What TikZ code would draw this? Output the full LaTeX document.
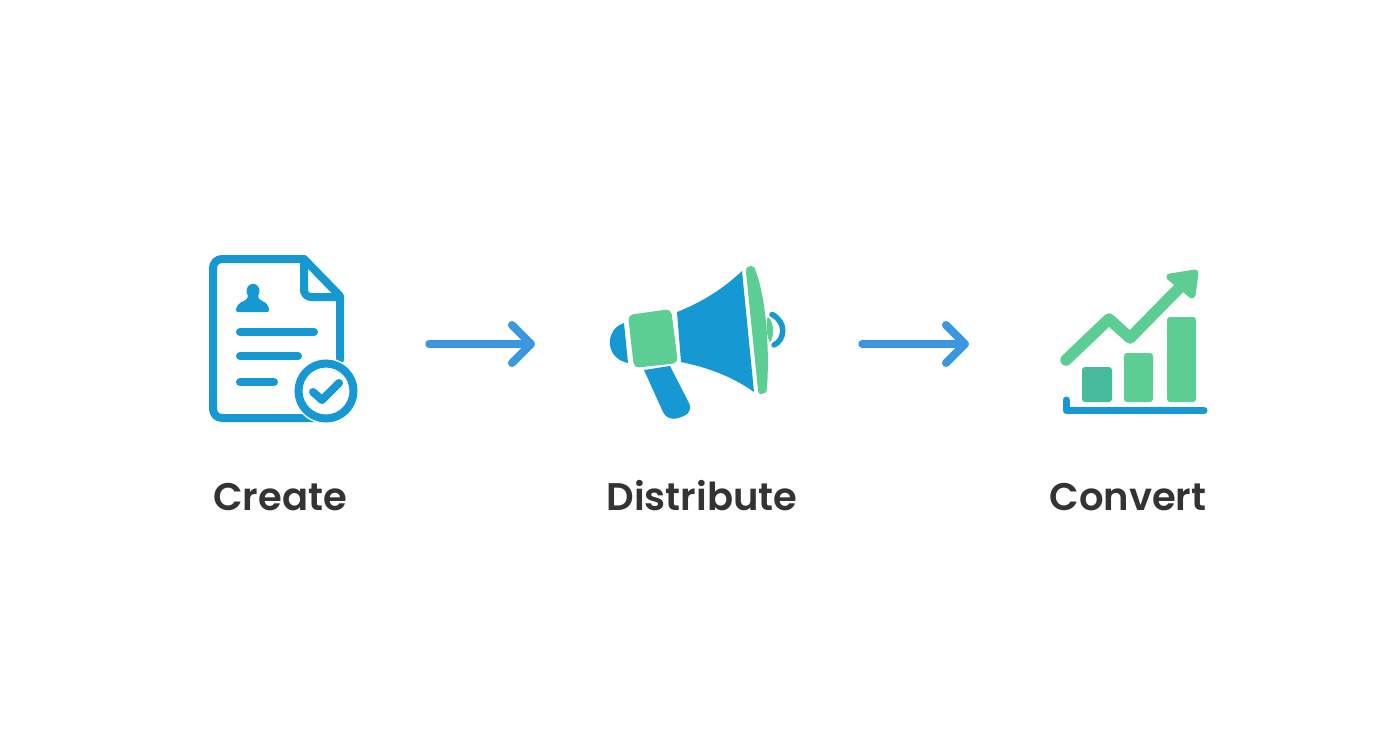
\documentclass[tikz,border=0pt]{standalone}
\usepackage{fontspec}
\setmainfont{Poppins}[BoldFont={Poppins SemiBold}]
\usetikzlibrary{arrows.meta}
\definecolor{bgc}{HTML}{FEFEFE}
\definecolor{iconblue}{HTML}{1699D2}
\definecolor{icongreen}{HTML}{5DCE93}
\definecolor{iconteal}{HTML}{46BA9C}
\definecolor{arrowblue}{HTML}{3A97E0}
\definecolor{labelc}{HTML}{333333}
\tikzset{
  outline/.style={draw=iconblue,line width=8pt,line cap=round,line join=round},
  rowline/.style={draw=iconblue,line width=8pt,line cap=round},
  flow/.style={draw=arrowblue,line width=7.5pt,line cap=round,line join=round,-{Straight Barb[round,length=19pt,width=38pt,line width=8pt]}},
  steplabel/.style={font=\fontsize{38.5}{44}\selectfont\bfseries,text=labelc,anchor=base,inner sep=0pt},
}
\begin{document}
\begin{tikzpicture}[x=1pt,y=-1pt]
\path[fill=bgc] (0,0) rectangle (1392,752);
\useasboundingbox (0,0) rectangle (1392,752);
% document
\draw[outline] (340,360) -- (340,296) -- (304,259);
\draw[outline,rounded corners=9pt] (304,259) -- (213,259) -- (213,418) -- (318,418);
\draw[outline,rounded corners=7pt] (304,259) -- (304,297) -- (340,297);
\fill[iconblue] (253,291) ellipse (6.5 and 7.2);
\fill[iconblue] (248,293) -- (258,293) .. controls (258,298) and (259,300) .. (262,301) .. controls (266,302) and (269,306) .. (269,310) .. controls (269,312) and (268,312) .. (266,312) -- (239,312) .. controls (237,312) and (236,312) .. (236,310) .. controls (236,306) and (240,302) .. (244,301) .. controls (247,300) and (248,298) .. (248,293) -- cycle;
\draw[rowline] (240,332) -- (314,332);
\draw[rowline] (240,356) -- (298,356);
\draw[rowline] (240,382) -- (274,382);
\fill[white] (326,391) circle (33);
\draw[draw=iconblue,line width=8pt,fill=white] (326,391) circle (27.5);
\draw[outline] (313,392) -- (322,400) -- (339,383);
% megaphone
\fill[iconblue] (624,323) .. controls (611,327) and (609,340) .. (610,345) .. controls (611,354) and (618,361) .. (628,363) -- cycle;
\fill[icongreen,rounded corners=5pt] (628,315) -- (671,309) -- (678,363) -- (634,368) -- cycle;
\fill[iconblue] (677,312) .. controls (700,303) and (722,290) .. (742,271) -- (754,392) .. controls (730,375) and (705,367) .. (681,362) -- cycle;
\fill[iconblue] (644,370) -- (670,366) -- (689,403) .. controls (693,412) and (686,416) .. (678,418) .. controls (671,420) and (666,418) .. (663,412) -- cycle;
\fill[icongreen] (746,272) .. controls (746,267) and (748,266) .. (751,266) .. controls (754,266) and (755,268) .. (756,272) .. controls (765,295) and (770,345) .. (767,388) .. controls (767,393) and (764,394) .. (761,394) .. controls (759,394) and (758,393) .. (758,390) -- cycle;
\fill[icongreen] (768,317) .. controls (772,320) and (773,326) .. (773,331) .. controls (773,337) and (772,340) .. (770,342) .. controls (767,339) and (766,325) .. (767,319) -- cycle;
\draw[draw=iconblue,line width=5.5pt,line cap=round] (772,314.5) .. controls (787,322) and (785,340) .. (774,345);
% chart
\fill[iconteal,rounded corners=3pt] (1082,367) rectangle (1112,402);
\fill[icongreen,rounded corners=3pt] (1124,353) rectangle (1153,402);
\fill[icongreen,rounded corners=3pt] (1167,317) rectangle (1196,402);
\draw[draw=iconblue,line width=7pt,line cap=round,line join=round] (1066,400) -- (1066,410.5) -- (1204,410.5);
\draw[draw=icongreen,line width=11.5pt,line cap=round,line join=round] (1066,360) -- (1109,319) -- (1130,338) -- (1183,284);
\fill[icongreen,draw=icongreen,line width=7pt,line join=round] (1170,277) -- (1195,273) -- (1192,295) -- cycle;
% flow
\coordinate (a1s) at (429,344);
\coordinate (a1e) at (535,344);
\coordinate (a2s) at (862,344);
\coordinate (a2e) at (969,344);
\draw[flow] (a1s) -- (a1e);
\draw[flow] (a2s) -- (a2e);
% labels
\node[steplabel] (create) at (280,510) {Create};
\node[steplabel] (distribute) at (702,510) {Distribute};
\node[steplabel] (convert) at (1128,510) {Convert};
\end{tikzpicture}
\end{document}
